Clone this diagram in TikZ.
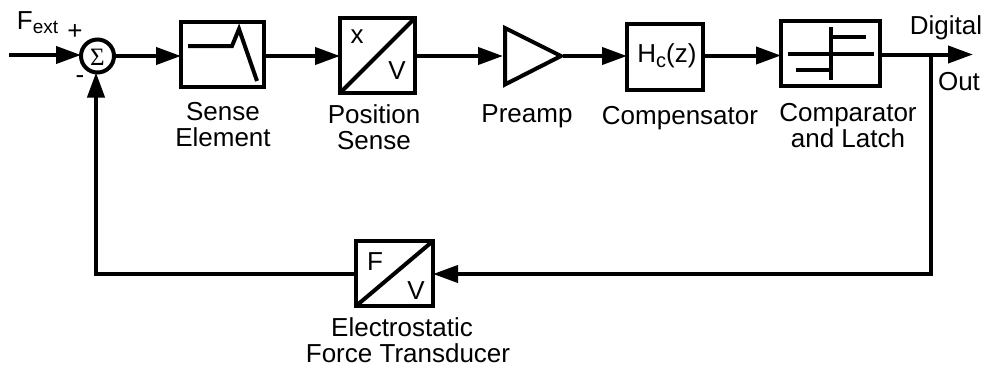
\documentclass[tikz,border=0pt]{standalone}
\usepackage{fontspec}
\setmainfont{Liberation Sans}
\newfontfamily\sigmafont{Liberation Serif}
\usetikzlibrary{arrows.meta,calc}
\tikzset{
  x=1pt,y=-1pt,
  block/.style={draw=black,line width=4pt,fill=white,inner sep=0pt,outer sep=0pt,anchor=center},
  lbl/.style={font=\fontsize{26}{26}\selectfont,align=center,inner sep=0pt,anchor=center,text=black},
  wire/.style={line width=4pt,black},
  arrowwire/.style={wire,-{Triangle[length=25pt,width=17pt]}},
  inner line/.style={line width=4pt,black,line cap=butt,line join=miter}
}
\begin{document}
\begin{tikzpicture}
\useasboundingbox (0,0) rectangle (988,370);
% blocks
\node[block,circle,minimum size=33pt] (sum) at (97.5,56) {};
\node[lbl,font=\fontsize{25}{25}\sigmafont] (sigma) at (97.5,57) {Σ};
\node[block,minimum width=83pt,minimum height=65pt] (sense) at (222.5,54.5) {};
\node[block,minimum width=75pt,minimum height=75pt] (pos) at (377.5,55.5) {};
\node[block,draw=none,fill=none,minimum width=56pt,minimum height=55pt] (pre) at (533,56) {};
\node[block,line width=3.5pt,minimum width=76pt,minimum height=66pt] (comp) at (665,57) {};
\node[block,minimum width=99pt,minimum height=65pt] (latch) at (830.5,53.5) {};
\node[block,minimum width=77pt,minimum height=65pt] (force) at (394.5,273.5) {};
% coordinates
\coordinate (in) at (9,55);
\coordinate (out) at (973,54.5);
\coordinate (tap) at (931,54.5);
\coordinate (tapb) at (931,274);
\coordinate (backb) at (96,274);
\coordinate (pretip) at (563,56);
\coordinate (preleft) at (503,56);
% triangle
\draw[inner line] (505,28) -- (505,84.5) -- (561,56) -- cycle;
% inner glyphs
\draw[inner line] (188,46) -- (232,46) -- (239,29) -- (257,81);
\draw[inner line] (pos.south west) -- (pos.north east);
\draw[inner line] (force.south west) -- (force.north east);
\draw[inner line] (788,53.5) -- (874,53.5);
\draw[inner line] (831,27) -- (831,80);
\draw[inner line] (831,37) -- (866,37);
\draw[inner line] (796,70) -- (831,70);
% connectors
\draw[arrowwire] (in) -- (sum.west |- in);
\draw[arrowwire] (sum.east) -- (sense.west |- sum.east);
\draw[arrowwire] (sense.east |- 0,56) -- (pos.west |- 0,56);
\draw[arrowwire] (pos.east |- 0,56) -- (preleft);
\draw[arrowwire] (pretip) -- (comp.west |- pretip);
\draw[arrowwire] (comp.east |- 0,55.5) -- (latch.west |- 0,55.5);
\draw[arrowwire] (latch.east |- out) -- (out);
\draw[arrowwire] (tap) -- (tapb) -- (force.east |- tapb);
\draw[arrowwire] (force.west |- backb) -- (backb) -- (sum.south -| backb);
% labels
\node[lbl] (fext) at (37.5,23) {F\raisebox{-0.3ex}{\fontsize{19}{19}\selectfont ext}};
\node[lbl] (plus) at (75,32) {+};
\node[lbl] (minus) at (80,80) {-};
\node[lbl] (lsense) at (223,125) {Sense\\Element};
\node[lbl] (x) at (357,37) {x};
\node[lbl] (v1) at (397,71) {V};
\node[lbl] (lpos) at (374,127) {Position\\Sense};
\node[lbl] (lpre) at (527,116) {Preamp};
\node[lbl] (hc) at (667,56) {H\raisebox{-0.35ex}{\fontsize{20}{20}\selectfont c}(z)};
\node[lbl] (lcomp) at (680,118) {Compensator};
\node[lbl] (llatch) at (848,126) {Comparator\\and Latch};
\node[lbl] (dig) at (946,28) {Digital};
\node[lbl] (lout) at (959,82) {Out};
\node[lbl] (f) at (375,262) {F};
\node[lbl] (v2) at (416,291) {V};
\node[lbl] (lforce) at (408,340) {\hspace*{-12pt}Electrostatic\\Force Transducer};
\end{tikzpicture}
\end{document}
